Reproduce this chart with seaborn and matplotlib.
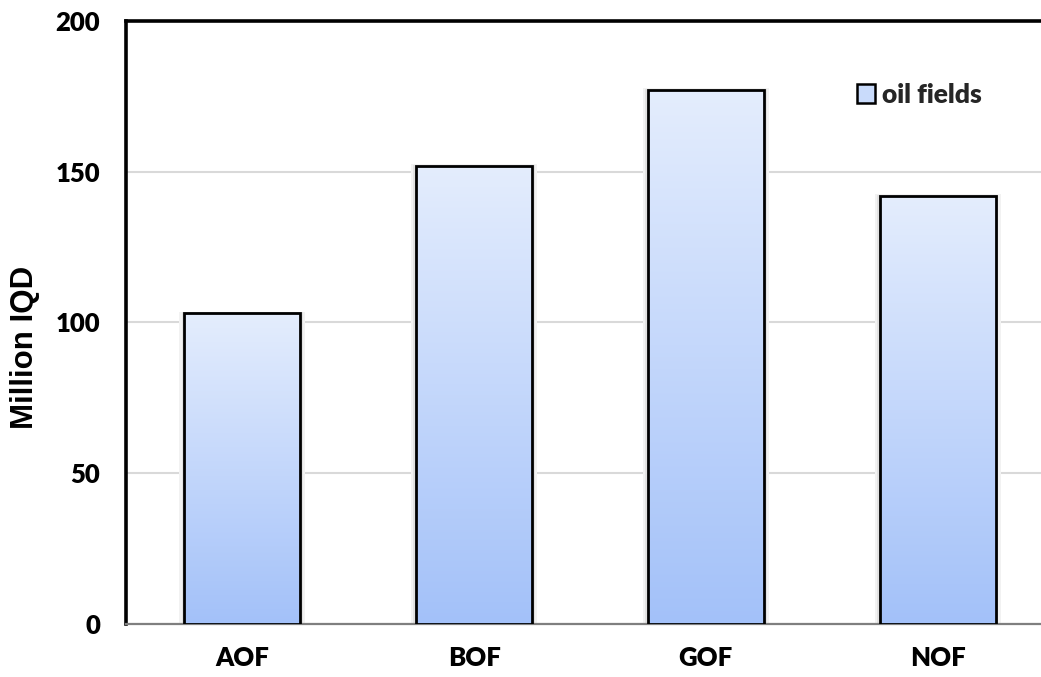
import numpy as np
import pandas as pd
import matplotlib
matplotlib.use("Agg")
import matplotlib.pyplot as plt
import seaborn as sns
from matplotlib.patches import Rectangle, Patch
from matplotlib.colors import LinearSegmentedColormap

# ---- data ----
categories = ["AOF", "BOF", "GOF", "NOF"]
values = [103, 152, 177, 142]
series_name = "oil fields"
y_ticks = [0, 50, 100, 150, 200]
y_label = "Million IQD"

sns.set_theme(style="white")
plt.rcParams["font.family"] = ["Lato", "DejaVu Sans"]

fig = plt.figure(figsize=(10.41, 6.77), dpi=100)
ax = fig.add_axes([0.1215, 0.0783, 0.8905, 0.891])

df = pd.DataFrame({"field": categories, "value": values})
sns.barplot(data=df, x="field", y="value", ax=ax, width=0.5,
            color="#c9dbfb", edgecolor="black", linewidth=2.0, zorder=4)

cmap = LinearSegmentedColormap.from_list("grad", ["#a3c1f9", "#e4edfd"])
grad = np.linspace(0, 1, 256).reshape(-1, 1)
for p in list(ax.patches):
    x0, y0, w, h = p.get_x(), p.get_y(), p.get_width(), p.get_height()
    p.set_facecolor("none")
    # soft shadow
    ax.add_patch(Rectangle((x0 - 0.022, y0), w + 0.044, h + 0.6,
                           facecolor="#f2f2f2", edgecolor="none", zorder=1.5))
    ax.add_patch(Rectangle((x0 - 0.012, y0), w + 0.024, h + 0.3,
                           facecolor="#e2e2e2", edgecolor="none", zorder=1.6))
    ax.imshow(grad, extent=[x0, x0 + w, y0, y0 + h], origin="lower",
              cmap=cmap, aspect="auto", zorder=3, interpolation="bicubic")

ax.set_xlim(-0.5, 3.5)
ax.set_ylim(0, 200)
ax.set_yticks(y_ticks)
ax.set_yticklabels([str(t) for t in y_ticks])

ax.yaxis.grid(True, color="#d9d9d9", linewidth=1.5, zorder=0)
ax.xaxis.grid(False)
ax.set_axisbelow(True)

for s in ["left", "top"]:
    ax.spines[s].set_color("black")
    ax.spines[s].set_linewidth(2.6)
ax.spines["bottom"].set_color("#7f7f7f")
ax.spines["bottom"].set_linewidth(1.6)
ax.spines["right"].set_visible(False)

ax.tick_params(axis="both", length=0, labelsize=18.5, labelcolor="black")
ax.tick_params(axis="y", pad=19)
ax.tick_params(axis="x", pad=16)
for lbl in ax.get_xticklabels() + ax.get_yticklabels():
    lbl.set_fontweight("heavy")

ax.set_xlabel("")
ax.set_ylabel(y_label, fontsize=22.5, fontweight="bold",
              family=["Liberation Sans", "DejaVu Sans"], color="black")
ax.yaxis.set_label_coords(-0.093, 0.459)

handles = [Patch(facecolor="#c9dbfb", edgecolor="black", linewidth=1.8,
                 label=series_name)]
leg = ax.legend(handles=handles, loc="center left",
                bbox_to_anchor=(0.823, 0.860), bbox_transform=fig.transFigure,
                frameon=False, borderpad=0, borderaxespad=0,
                handlelength=0.7, handleheight=0.7, handletextpad=0.25,
                prop={"size": 19, "weight": "heavy"})

fig.savefig("out.png", dpi=100)
